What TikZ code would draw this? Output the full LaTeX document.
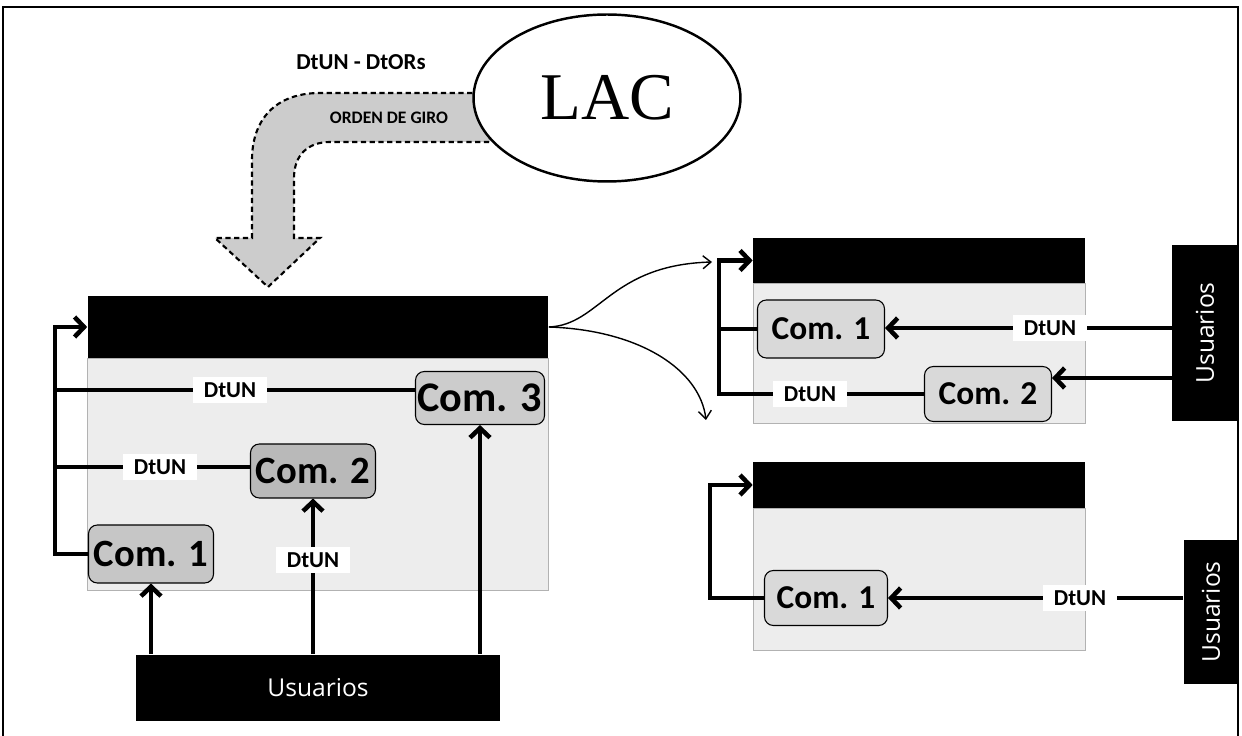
\documentclass[tikz,border=0pt]{standalone}
\usepackage{fontspec}
\setmainfont{Carlito}
\newfontfamily\usrfont{Open Sans}
\newfontfamily\lacfont{Liberation Serif}
\usetikzlibrary{positioning, calc, arrows.meta, shapes.geometric}

\begin{document}
\begin{tikzpicture}[
    x=0.02cm, y=-0.02cm,
    hdr/.style={fill=black, inner sep=0pt},
    panel/.style={fill=gray!14, draw=gray!60, line width=0.4pt, inner sep=0pt},
    com/.style={draw, line width=0.6pt, rounded corners=5pt, fill=gray!45, inner sep=1pt, font=\bfseries\fontsize{22}{22}\selectfont, minimum width=2.5cm, minimum height=1.1cm},
    comr/.style={com, fill=gray!30, font=\bfseries\fontsize{19}{19}\selectfont, minimum width=2.54cm},
    tag/.style={fill=white, inner xsep=6pt, inner ysep=3pt, font=\bfseries\fontsize{13}{13}\selectfont},
    users/.style={fill=black, text=white, inner sep=0pt, font=\usrfont\fontsize{14}{14}\selectfont},
    link/.style={line width=2.6pt},
    arrow/.style={link, -{Straight Barb[length=1.9mm, width=4mm]}},
    flow/.style={line width=0.8pt, -{Straight Barb[length=1.6mm, width=2.6mm]}},
    bigarrow/.style={draw=black, densely dashed, line width=1.2pt, fill=gray!40}
]
\useasboundingbox (0,0) rectangle (1242,736);

% ----------------- 1. frame and LAC -----------------
\draw[line width=0.8pt] (3,736) -- (3,7) -- (1238,7) -- (1238,736);

\draw[bigarrow] (490,93) -- (320,93) .. controls (275,93) and (252,120) .. (252,160)
    -- (252,238) -- (215,238) -- (268,287) -- (320,238) -- (294,238) -- (294,178)
    .. controls (294,155) and (308,142) .. (330,142) -- (490,142) -- cycle;
\node[font=\bfseries\fontsize{10}{10}\selectfont] (orden) at (389,118) {ORDEN DE GIRO};
\node[font=\bfseries\fontsize{13}{13}\selectfont] (dtor) at (361,62) {DtUN - DtORs};

\node[ellipse, draw, line width=1.4pt, fill=white, minimum width=5.34cm, minimum height=3.34cm,
      font=\lacfont\fontsize{38}{38}\selectfont] (lac) at (607,98) {LAC};

% ----------------- 2. main box -----------------
\node[panel, minimum width=9.22cm, minimum height=4.64cm] (mbody) at (318,474) {};
\node[hdr, minimum width=9.22cm, minimum height=1.24cm] (mhead) at (318,327) {};

\node[com, fill=gray!40, font=\bfseries\fontsize{24}{24}\selectfont, minimum width=2.58cm, minimum height=1.06cm] (m3) at (480,398) {Com. 3};
\node[com, fill=gray!55, minimum height=1.08cm] (m2) at (313,471) {Com. 2};
\node[com, minimum height=1.16cm] (m1) at (151,554) {Com. 1};

\node[tag] (t1) at (230,390) {DtUN};
\node[tag] (t2) at (160,467) {DtUN};
\node[tag] (t3) at (313,560) {DtUN};
\coordinate (mL) at (55,327);

\node[users, minimum width=7.3cm, minimum height=1.34cm] (uB) at (318,688) {Usuarios};

\draw[arrow] (m1.west) -| (mL) -- (mhead.west);
\draw[link] (t1 -| mL) -- (t1) -- (t1 -| m3.west);
\draw[link] (t2 -| mL) -- (t2) -- (t2 -| m2.west);
\draw[arrow] (uB.north -| m1.south) -- (m1.south);
\draw[link] (uB.north -| t3) -- (t3);
\draw[arrow] (t3) -- (m2.south);
\draw[arrow] (uB.north -| m3.south) -- (m3.south);

% ----------------- 3. upper right box -----------------
\node[panel, minimum width=6.64cm, minimum height=2.8cm] (rb1) at (919,353) {};
\node[hdr, minimum width=6.64cm, minimum height=0.9cm] (rh1) at (919,260.5) {};
\node[comr, minimum height=1.16cm] (r1a) at (821,329) {Com. 1};
\node[comr, minimum height=1.1cm] (r1b) at (988,394) {Com. 2};
\node[tag] (r1t1) at (1050,328) {DtUN};
\node[tag] (r1t2) at (810,394) {DtUN};
\node[users, rotate=90, minimum width=3.54cm, minimum height=1.32cm] (uR1) at (1205,333) {Usuarios};
\coordinate (rL1) at (719,260.5);

\draw[arrow] (r1a.west) -| (rL1) -- (rh1.west);
\draw[link] (r1b.west) -- (r1t2);
\draw[link] (r1t2) -- (r1t2 -| rL1) -- (rL1);
\draw[link] (r1t1 -| uR1.north) -- (r1t1);
\draw[arrow] (r1t1) -- (r1t1 -| r1a.east);
\draw[arrow] (uR1.north |- 0,378) -- (r1b.east |- 0,378);

% ----------------- 4. lower right box -----------------
\node[panel, minimum width=6.64cm, minimum height=2.84cm] (rb2) at (919,579) {};
\node[hdr, minimum width=6.64cm, minimum height=0.92cm] (rh2) at (919,485) {};
\node[comr, minimum width=2.46cm, minimum height=1.1cm] (r2a) at (826,598) {Com. 1};
\node[tag] (r2t) at (1080,598) {DtUN};
\node[users, rotate=90, minimum width=2.9cm, minimum height=1.1cm] (uR2) at (1211,612) {Usuarios};
\coordinate (rL2) at (710,485);

\draw[arrow] (r2a.west) -| (rL2) -- (rh2.west);
\draw[link] (r2t -| uR2.north) -- (r2t);
\draw[arrow] (r2t) -- (r2a.east);

% ----------------- 5. links between boxes -----------------
\coordinate (cA) at (712,262);
\coordinate (cB) at (706,420);
\draw[flow] (mhead.east) .. controls (600,325) and (610,265) .. (cA);
\draw[flow] (mhead.east) .. controls (640,330) and (700,370) .. (cB);

\end{tikzpicture}
\end{document}
